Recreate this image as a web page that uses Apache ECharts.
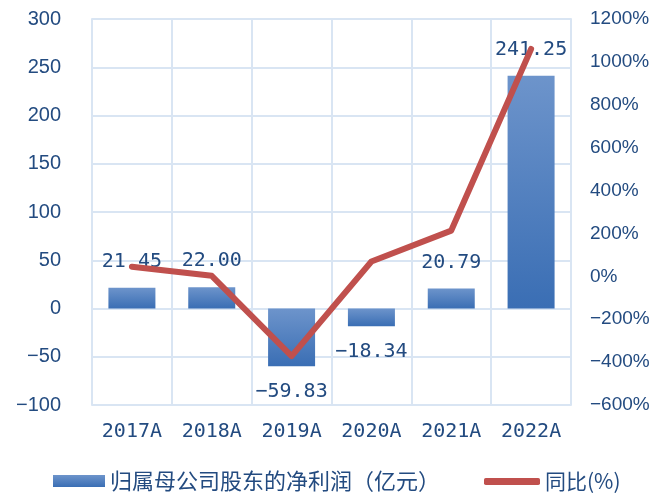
<!DOCTYPE html>
<html>
<head>
<meta charset="utf-8">
<style>
  html, body { margin: 0; padding: 0; background: #fff; }
  #chart { width: 666px; height: 494px; }
</style>
<script src="https://cdn.jsdelivr.net/npm/echarts@6/dist/echarts.min.js"></script>
</head>
<body>
<div id="chart"></div>
<script>
// 数据
var years = ['2017A', '2018A', '2019A', '2020A', '2021A', '2022A'];
var profit = [21.45, 22.00, -59.83, -18.34, 20.79, 241.25];   // 归属母公司股东的净利润（亿元）
var yoy = [45, 2.56, -371.95, 69.35, 213.36, 1060.41];       // 同比(%)

var txtColor = '#234b80';
var gridColor = '#d9e5f3';

function minus(s) {
    return String(s).replace('-', '\u2212');
}

var myChart = echarts.init(document.getElementById('chart'));

var barColor = new echarts.graphic.LinearGradient(0, 0, 0, 1, [
    { offset: 0, color: '#6d94cb' },
    { offset: 1, color: '#3a6eb4' }
]);

var option = {
    animation: false,
    grid: {
        left: 92,
        right: 95,
        top: 19,
        bottom: 89
    },
    legend: [{
        left: 48,
        top: 465,
        itemWidth: 52,
        itemHeight: 12,
        itemGap: 5,
        data: [{ name: '归属母公司股东的净利润（亿元）', icon: 'rect' }],
        textStyle: { color: txtColor, fontSize: 22, fontFamily: 'Noto Sans CJK SC' }
    }, {
        left: 479,
        top: 466,
        itemWidth: 56,
        itemHeight: 7,
        itemGap: 5,
        data: [{ name: '同比(%)', icon: 'roundRect' }],
        textStyle: { color: txtColor, fontSize: 21, fontFamily: 'Noto Sans CJK SC' }
    }],
    xAxis: {
        type: 'category',
        data: years,
        axisLine: { show: false },
        axisTick: { show: false },
        axisLabel: {
            color: txtColor,
            fontSize: 20,
            fontFamily: 'DejaVu Sans Mono',
            margin: 17
        },
        splitLine: {
            show: true,
            lineStyle: { color: gridColor, width: 2 }
        }
    },
    yAxis: [{
        type: 'value',
        min: -100,
        max: 300,
        interval: 50,
        axisLine: { show: true, lineStyle: { color: gridColor, width: 2 } },
        axisTick: { show: false },
        axisLabel: {
            color: txtColor,
            fontSize: 20,
            fontFamily: 'Liberation Sans',
            margin: 31,
            formatter: function (v) { return minus(v); }
        },
        splitLine: { lineStyle: { color: gridColor, width: 2 } }
    }, {
        type: 'value',
        min: -600,
        max: 1200,
        interval: 200,
        axisLine: { show: true, lineStyle: { color: gridColor, width: 2 } },
        axisTick: { show: false },
        axisLabel: {
            color: txtColor,
            fontSize: 19,
            fontFamily: 'Liberation Sans',
            margin: 19,
            formatter: function (v) { return minus(v) + '%'; }
        },
        splitLine: { show: false }
    }],
    series: [{
        name: '归属母公司股东的净利润（亿元）',
        type: 'bar',
        data: profit.map(function (v) {
            // 负值标签放在柱子下方
            return v < 0 ? { value: v, label: { position: 'bottom' } } : v;
        }),
        barWidth: 47,
        itemStyle: { color: barColor },
        label: {
            show: true,
            position: 'top',
            distance: 16,
            color: txtColor,
            fontSize: 20,
            fontFamily: 'DejaVu Sans Mono',
            formatter: function (p) { return minus(p.value.toFixed(2)); }
        }
    }, {
        name: '同比(%)',
        type: 'line',
        yAxisIndex: 1,
        data: yoy,
        symbol: 'none',
        lineStyle: { color: '#c0504d', width: 6, cap: 'round', join: 'round' },
        itemStyle: { color: '#c0504d' },
        z: 5
    }]
};

myChart.setOption(option);
window.addEventListener('resize', function () {
    myChart.resize();
});
</script>
</body>
</html>
